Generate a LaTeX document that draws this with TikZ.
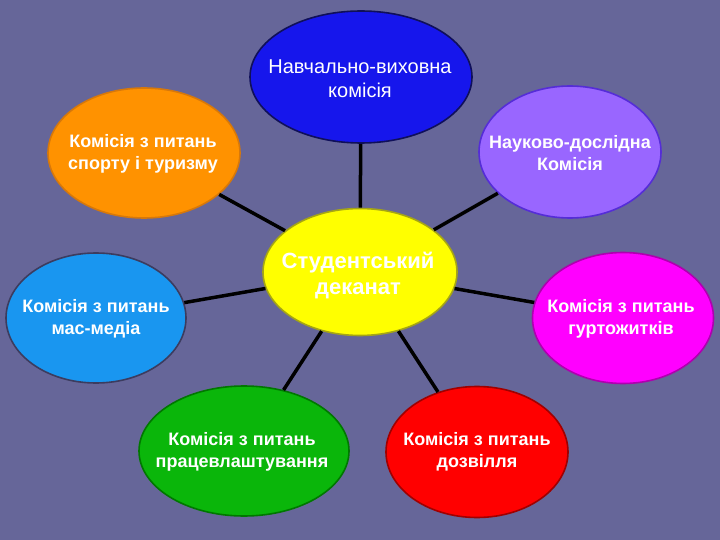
\documentclass[tikz,border=0pt]{standalone}
\usepackage{fontspec}
\setmainfont{Liberation Sans}
\usetikzlibrary{shapes.geometric}
\definecolor{bgc}{HTML}{666699}
\definecolor{cBlue}{RGB}{22,22,236}
\definecolor{cBlueD}{RGB}{16,16,90}
\definecolor{cOrange}{RGB}{255,146,0}
\definecolor{cOrangeD}{RGB}{215,120,10}
\definecolor{cPurple}{RGB}{153,102,255}
\definecolor{cPurpleD}{RGB}{85,45,215}
\definecolor{cYellow}{RGB}{255,255,0}
\definecolor{cYellowD}{RGB}{165,165,20}
\definecolor{cCyan}{RGB}{25,150,240}
\definecolor{cCyanD}{RGB}{60,60,95}
\definecolor{cMagenta}{RGB}{255,0,255}
\definecolor{cMagentaD}{RGB}{175,0,175}
\definecolor{cGreen}{RGB}{10,182,10}
\definecolor{cGreenD}{RGB}{0,120,0}
\definecolor{cRed}{RGB}{255,0,0}
\definecolor{cRedD}{RGB}{160,0,0}
\tikzset{
  oval/.style={ellipse, draw, line width=1.6pt, inner sep=0pt},
  txt/.style={inner sep=0pt, align=center, text=white,
    font=\bfseries\fontsize{18}{22}\selectfont},
  link/.style={draw=black, line width=3.5pt}
}
\begin{document}
\begin{tikzpicture}[x=1pt,y=-1pt]
\fill[bgc] (0,0) rectangle (720,540);
\useasboundingbox (0,0) rectangle (720,540);
\node[oval, fill=cYellow, draw=cYellowD, minimum width=194pt, minimum height=127pt] (c) at (360,272) {};
\node[oval, fill=cBlue, draw=cBlueD, minimum width=222pt, minimum height=132pt] (top) at (361,77) {};
\node[oval, fill=cOrange, draw=cOrangeD, minimum width=192pt, minimum height=130pt] (sp) at (144,153) {};
\node[oval, fill=cPurple, draw=cPurpleD, minimum width=182pt, minimum height=132pt] (nd) at (570,152) {};
\node[oval, fill=cCyan, draw=cCyanD, minimum width=180pt, minimum height=130pt] (mm) at (96,318) {};
\node[oval, fill=cMagenta, draw=cMagentaD, minimum width=181pt, minimum height=131pt] (gt) at (623,318) {};
\node[oval, fill=cGreen, draw=cGreenD, minimum width=210pt, minimum height=130pt] (pr) at (244,451) {};
\node[oval, fill=cRed, draw=cRedD, minimum width=182pt, minimum height=131pt] (dz) at (477,452) {};
\draw[link] (top) -- (c);
\draw[link] (sp) -- (c);
\draw[link] (nd) -- (c);
\draw[link] (mm) -- (c);
\draw[link] (gt) -- (c);
\draw[link] (pr) -- (c);
\draw[link] (dz) -- (c);
\node[txt, font=\bfseries\fontsize{22}{26}\selectfont] (ct) at (358,276) {Студентський\\деканат};
\node[txt, font=\fontsize{20}{24}\selectfont] (topt) at (360,79) {Навчально-виховна\\комісія};
\node[txt] (spt) at (143,154) {Комісія з питань\\спорту і туризму};
\node[txt] (ndt) at (570,153) {Науково-дослідна\\Комісія};
\node[txt] (mmt) at (96,319) {Комісія з питань\\мас-медіа};
\node[txt] (gtt) at (621,319) {Комісія з питань\\гуртожитків};
\node[txt] (prt) at (242,452) {Комісія з питань\\працевлаштування};
\node[txt] (dzt) at (477,452) {Комісія з питань\\дозвілля};
\end{tikzpicture}
\end{document}
